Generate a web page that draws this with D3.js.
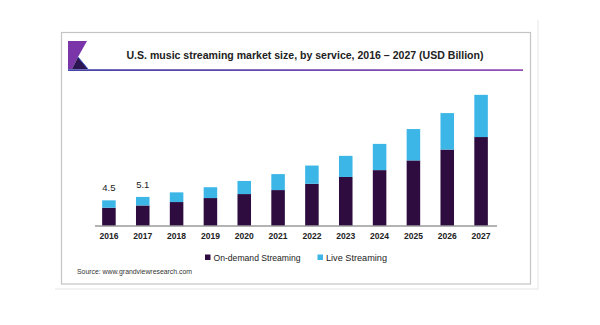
<div id="chart"></div>
<style>
body { margin: 0; background: #fff; }
#chart { font-family: "Liberation Sans", Arial, Helvetica, sans-serif; }
</style>
<script src="https://cdnjs.cloudflare.com/ajax/libs/d3/7.8.5/d3.min.js"></script>
<script>
// data (USD billion)
var years = ["2016", "2017", "2018", "2019", "2020", "2021", "2022", "2023", "2024", "2025", "2026", "2027"];
var onDemand = [3.2, 3.6, 4.2, 4.9, 5.6, 6.3, 7.4, 8.6, 9.8, 11.5, 13.4, 15.6];
var live = [1.3, 1.5, 1.7, 1.9, 2.3, 2.8, 3.2, 3.7, 4.6, 5.5, 6.4, 7.4];
var shownTotals = [{year: "2016", label: "4.5"}, {year: "2017", label: "5.1"}];
var seriesNames = ["On-demand Streaming", "Live Streaming"];
var colors = ["#2e0c40", "#3cb6e6"];

var width = 600, height = 325;
var svg = d3.select("#chart").append("svg")
    .attr("width", width)
    .attr("height", height);

// outer faint frame + card frame
svg.append("path")
    .attr("d", "M538,20 L538,289 L55,289")
    .attr("fill", "none").attr("stroke", "#eeeeee").attr("stroke-width", 1.5);
svg.append("rect")
    .attr("x", 61.5).attr("y", 32.5).attr("width", 469).attr("height", 251.5)
    .attr("fill", "#fff").attr("stroke", "#c4c4c4").attr("stroke-width", 1.2);

// logo
var logo = svg.append("g");
logo.append("polygon").attr("points", "68,41 87,41 78,57 72,69 68,69").attr("fill", "#7a35a8");
logo.append("polygon").attr("points", "72,69 78,57 88,69").attr("fill", "#2b1552");
logo.append("line").attr("x1", 78).attr("y1", 57).attr("x2", 88).attr("y2", 69)
    .attr("stroke", "#3a5cc8").attr("stroke-width", 1);

// title underline
var grad = svg.append("defs").append("linearGradient").attr("id", "uline");
grad.append("stop").attr("offset", "0%").attr("stop-color", "#2f2f9a");
grad.append("stop").attr("offset", "100%").attr("stop-color", "#8a3db0");
svg.append("rect").attr("x", 68).attr("y", 69.3).attr("width", 455).attr("height", 1.6)
    .attr("fill", "url(#uline)");

svg.append("text")
    .attr("x", 305).attr("y", 58.5)
    .attr("text-anchor", "middle")
    .attr("font-size", 11.5).attr("font-weight", "bold").attr("fill", "#222")
    .attr("textLength", 357).attr("lengthAdjust", "spacingAndGlyphs")
    .text("U.S. music streaming market size, by service, 2016 \u2013 2027 (USD Billion)");

// scales
var x = d3.scaleBand().domain(years).range([92, 498]).paddingInner(0.6).paddingOuter(0.3);
var y = d3.scaleLinear().domain([0, 24.2]).range([226, 88]);

var rows = years.map(function(yr, i) { return {year: yr, onDemand: onDemand[i], live: live[i]}; });
var stacked = d3.stack().keys(["onDemand", "live"])(rows);

svg.append("g").selectAll("g")
    .data(stacked)
    .join("g")
    .attr("fill", function(d, i) { return colors[i]; })
    .selectAll("rect")
    .data(function(d) { return d; })
    .join("rect")
    .attr("x", function(d) { return x(d.data.year); })
    .attr("y", function(d) { return y(d[1]); })
    .attr("width", x.bandwidth())
    .attr("height", function(d) { return y(d[0]) - y(d[1]); });

// total labels for first bars
svg.append("g").selectAll("text")
    .data(shownTotals)
    .join("text")
    .attr("x", function(d) { return x(d.year) + x.bandwidth() / 2; })
    .attr("y", function(d) {
        var i = years.indexOf(d.year);
        return y(onDemand[i] + live[i]) - 9;
    })
    .attr("text-anchor", "middle")
    .attr("font-size", 9.5).attr("fill", "#222")
    .text(function(d) { return d.label; });

// x axis
var xAxis = svg.append("g")
    .attr("transform", "translate(0,226)")
    .call(d3.axisBottom(x).tickSize(0).tickPadding(6));
xAxis.select(".domain").remove();
xAxis.append("line").attr("x1", 95).attr("x2", 497).attr("stroke", "#9a9a9a").attr("stroke-width", 1.5);
xAxis.selectAll("text")
    .attr("font-family", "Liberation Sans, Arial, sans-serif")
    .attr("font-size", 9.5).attr("font-weight", "bold").attr("fill", "#222")
    .attr("textLength", 19).attr("lengthAdjust", "spacingAndGlyphs");

// legend
var legendX = [205, 317.5];
var legendW = [87, 61];
var legend = svg.append("g").selectAll("g")
    .data(seriesNames)
    .join("g")
    .attr("transform", function(d, i) { return "translate(" + legendX[i] + ",254.5)"; });
legend.append("rect").attr("width", 5.5).attr("height", 5.5)
    .attr("fill", function(d, i) { return colors[i]; });
legend.append("text")
    .attr("x", 8.5).attr("y", 6)
    .attr("font-size", 9.5).attr("fill", "#222")
    .attr("textLength", function(d, i) { return legendW[i]; })
    .attr("lengthAdjust", "spacingAndGlyphs")
    .text(function(d) { return d; });

svg.append("text")
    .attr("x", 77).attr("y", 273.5)
    .attr("font-size", 6.5).attr("fill", "#333")
    .attr("textLength", 115).attr("lengthAdjust", "spacingAndGlyphs")
    .text("Source: www.grandviewresearch.com");
</script>
